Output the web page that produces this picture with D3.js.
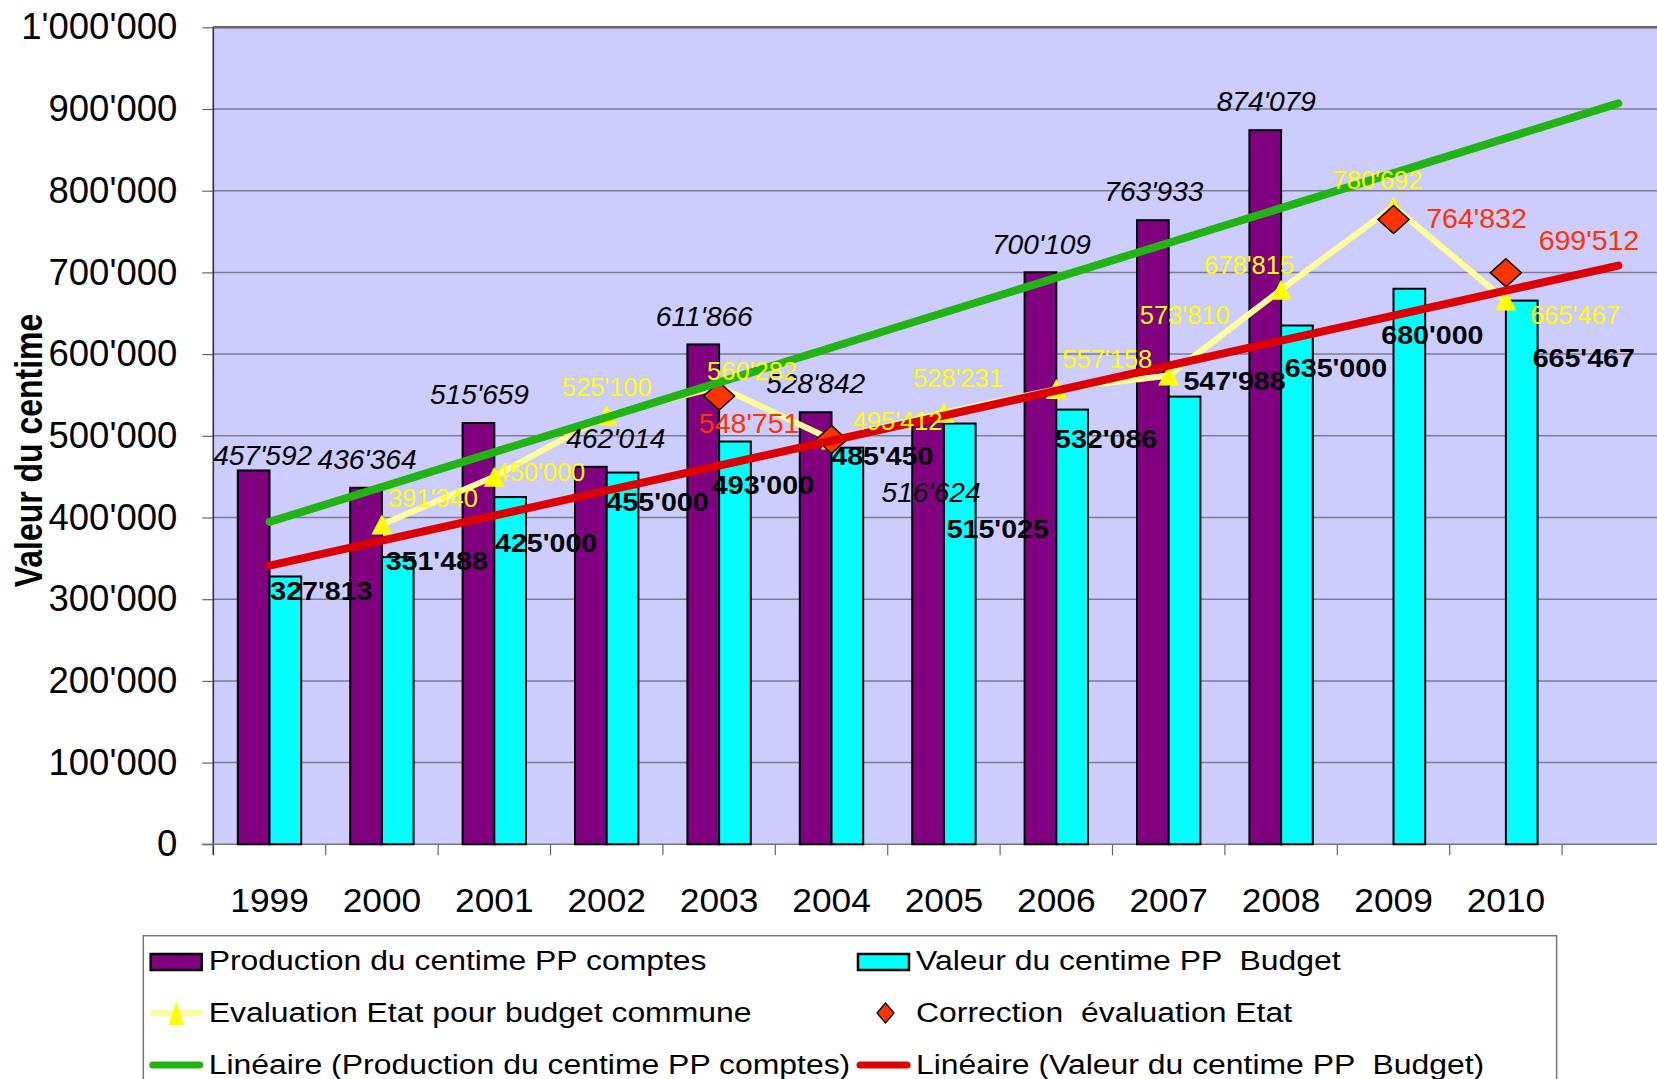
<!DOCTYPE html>
<html lang="fr">
<head>
<meta charset="UTF-8">
<title>Valeur du centime</title>
<script src="https://cdn.jsdelivr.net/npm/d3@7"></script>
<style>
    body { margin: 0; background: #fff; }
    svg { display: block; font-family: "Liberation Sans", Arial, sans-serif; }
    .legend text { white-space: pre; }
</style>
</head>
<body>
<script>
    // ---- data ----
    // last slot is empty: the trend lines run on into it
    var years = ["1999", "2000", "2001", "2002", "2003", "2004", "2005", "2006", "2007", "2008", "2009", "2010", ""];
    var production = [457592, 436364, 515659, 462014, 611866, 528842, 516624, 700109, 763933, 874079, null, null];
    var budget = [327813, 351488, 425000, 455000, 493000, 485450, 515025, 532086, 547988, 635000, 680000, 665467];
    var evaluation = [null, 391340, 450000, 525100, 560282, 495412, 528231, 557158, 573810, 678815, 780692, 665467];
    var correction = [null, null, null, null, 548751, 495412, null, null, null, null, 764832, 699512];
    var yTicks = [0, 100000, 200000, 300000, 400000, 500000, 600000, 700000, 800000, 900000, 1000000];
    var legendNames = [
        "Production du centime PP comptes", "Valeur du centime PP  Budget",
        "Evaluation Etat pour budget commune", "Correction  évaluation Etat",
        "Linéaire (Production du centime PP comptes)", "Linéaire (Valeur du centime PP  Budget)"
    ];

    // label nudges in px from the mark (hand placed in the original), null = no label
    var prodShift = [[9, -5], [1, -19], [1, -19], [25, -19], [1, -18], [0, -19], [3, 80], [1, -18], [1, -19], [1, -19]];
    var budgetShift = [[36, 24], [39, 13], [36, 55], [35, 38], [28, 52], [35, 17], [38, 114], [34, 38], [50, -7], [39, 51], [23, 55], [62, 66]];
    var evalShift = [null, [51, -18], [46, 4], [0, -19], [33, -7], [66, -10], [14, -26], [51, -21], [16, -51], [-32, -16], [-16, -17], [69, 23]];
    var corrShift = [null, null, null, null, [30, 37], null, null, null, null, null, [83, 9], [83, -23]];

    var W = 1657, H = 1079;
    var plot = { left: 213.3, top: 27.3, bottom: 844.3, band: 112.4 };

    var fmt = d3.formatLocale({ decimal: ".", thousands: "'", grouping: [3], currency: ["", ""] }).format(",");

    var svg = d3.select("body").append("svg")
        .attr("width", W)
        .attr("height", H)
        .style("background", "#fff");

    var x = d3.scaleBand()
        .domain(d3.range(years.length))
        .range([plot.left, plot.left + plot.band * years.length])
        .padding(0);
    var y = d3.scaleLinear().domain([0, 1000000]).range([plot.bottom, plot.top]);
    var cx = i => x(i) + x.bandwidth() / 2;
    var barW = x.bandwidth() * 0.282;

    // plot area
    svg.append("rect")
        .attr("x", plot.left).attr("y", plot.top)
        .attr("width", x.range()[1] - plot.left)
        .attr("height", plot.bottom - plot.top)
        .attr("fill", "#CCCCFF");

    // gridlines
    svg.append("g").selectAll("line")
        .data(yTicks.filter(d => d > 0))
        .enter().append("line")
        .attr("x1", plot.left).attr("x2", W)
        .attr("y1", d => y(d)).attr("y2", d => y(d))
        .attr("stroke", d => d == 1000000 ? "#666" : "#7d7d8c")
        .attr("stroke-width", d => d == 1000000 ? 2.5 : 1.5);

    // y axis
    var yAxis = svg.append("g")
        .attr("transform", "translate(" + plot.left + ",0)")
        .call(d3.axisLeft(y).tickValues(yTicks).tickSize(11).tickPadding(25).tickFormat(fmt));
    yAxis.select(".domain").remove();
    yAxis.selectAll("line").attr("stroke", "#666").attr("stroke-width", 1.2);
    yAxis.selectAll("text")
        .attr("font-family", "Liberation Sans, Arial, sans-serif")
        .attr("font-size", 36.5)
        .attr("fill", "#000");
    svg.append("line")
        .attr("x1", plot.left).attr("x2", plot.left)
        .attr("y1", plot.top).attr("y2", plot.bottom + 11)
        .attr("stroke", "#333").attr("stroke-width", 1.6);

    // x axis: ticks on band edges, labels in the middle
    svg.append("line")
        .attr("x1", plot.left - 11).attr("x2", W)
        .attr("y1", plot.bottom).attr("y2", plot.bottom)
        .attr("stroke", "#777").attr("stroke-width", 1.6);
    svg.append("g").selectAll("line")
        .data(d3.range(1, years.length))
        .enter().append("line")
        .attr("x1", i => x(i)).attr("x2", i => x(i))
        .attr("y1", plot.bottom).attr("y2", plot.bottom + 11)
        .attr("stroke", "#666").attr("stroke-width", 1.2);
    svg.append("g").selectAll("text")
        .data(years)
        .enter().append("text")
        .attr("transform", (d, i) => "translate(" + cx(i) + "," + 911.7 + ") scale(1.07,1)")
        .attr("text-anchor", "middle")
        .attr("font-size", 33)
        .text(d => d);

    // bars
    svg.append("g").selectAll("rect")
        .data(production.map((v, i) => ({ v: v, i: i })).filter(d => d.v != null))
        .enter().append("rect")
        .attr("x", d => cx(d.i) - barW)
        .attr("y", d => y(d.v))
        .attr("width", barW)
        .attr("height", d => plot.bottom - y(d.v))
        .attr("fill", "#800080").attr("stroke", "#000").attr("stroke-width", 2);
    svg.append("g").selectAll("rect")
        .data(budget.map((v, i) => ({ v: v, i: i })))
        .enter().append("rect")
        .attr("x", d => cx(d.i))
        .attr("y", d => y(d.v))
        .attr("width", barW)
        .attr("height", d => plot.bottom - y(d.v))
        .attr("fill", "#00FFFF").attr("stroke", "#000").attr("stroke-width", 2);

    // Evaluation Etat line + triangles
    var evalPts = evaluation.map((v, i) => ({ v: v, i: i })).filter(d => d.v != null);
    svg.append("path")
        .datum(evalPts)
        .attr("fill", "none")
        .attr("stroke", "#FFFF99")
        .attr("stroke-width", 6)
        .attr("d", d3.line().x(d => cx(d.i)).y(d => y(d.v)));
    var tri = "M0,-10L10.5,10L-10.5,10Z";
    svg.append("g").selectAll("path")
        .data(evalPts)
        .enter().append("path")
        .attr("d", tri)
        .attr("transform", d => "translate(" + cx(d.i) + "," + y(d.v) + ")")
        .attr("fill", "#FFFF00");

    // Correction diamonds
    var corrPts = correction.map((v, i) => ({ v: v, i: i })).filter(d => d.v != null);
    var diamond = "M0,-14L15.5,0L0,14L-15.5,0Z";
    svg.append("g").selectAll("path")
        .data(corrPts)
        .enter().append("path")
        .attr("d", diamond)
        .attr("transform", d => "translate(" + cx(d.i) + "," + y(d.v) + ")")
        .attr("fill", "#FF3300").attr("stroke", "#000").attr("stroke-width", 1.5);

    // linear trends (least squares), drawn over all 13 slots
    function trend(values) {
        var pts = values.map((v, i) => [i, v]).filter(p => p[1] != null);
        var mx = d3.mean(pts, p => p[0]), my = d3.mean(pts, p => p[1]);
        var slope = d3.sum(pts, p => (p[0] - mx) * (p[1] - my)) / d3.sum(pts, p => (p[0] - mx) * (p[0] - mx));
        return d3.range(years.length).map(i => ({ i: i, v: my + slope * (i - mx) }));
    }
    [[production, "#22B414"], [budget, "#DC0000"]].forEach(function (t) {
        var pts = trend(t[0]);
        svg.append("path")
            .datum([pts[0], pts[pts.length - 1]])
            .attr("fill", "none")
            .attr("stroke", t[1])
            .attr("stroke-width", 8)
            .attr("stroke-linecap", "round")
            .attr("d", d3.line().x(d => cx(d.i)).y(d => y(d.v)));
    });

    // data labels
    function labels(values, shifts, xoff, opts) {
        svg.append("g").selectAll("text")
            .data(values.map((v, i) => ({ v: v, i: i, s: shifts[i] })).filter(d => d.v != null && d.s))
            .enter().append("text")
            .attr("transform", d => "translate(" + (cx(d.i) + xoff + d.s[0]) + "," + (y(d.v) + d.s[1]) + ") scale(" + opts.sx + ",1)")
            .attr("text-anchor", "middle")
            .attr("font-size", opts.size)
            .attr("font-style", opts.style || "normal")
            .attr("font-weight", opts.weight || "normal")
            .attr("fill", opts.color)
            .text(d => fmt(d.v));
    }
    labels(production, prodShift, -barW / 2, { size: 27, sx: 1.04, style: "italic", color: "#000" });
    labels(budget, budgetShift, barW / 2, { size: 26, sx: 1.1, weight: "bold", color: "#000" });
    labels(evaluation, evalShift, 0, { size: 25.5, sx: 1, color: "#FFFF00" });
    labels(correction, corrShift, 0, { size: 28.5, sx: 1, color: "#FF3300" });

    // y axis title
    svg.append("text")
        .attr("transform", "translate(42,450.5) rotate(-90) scale(0.82,1)")
        .attr("text-anchor", "middle")
        .attr("font-size", 39)
        .attr("font-weight", "bold")
        .text("Valeur du centime");

    // legend
    var lg = svg.append("g").attr("class", "legend");
    lg.append("rect")
        .attr("x", 143.3).attr("y", 935.7)
        .attr("width", 1556.6 - 143.3).attr("height", 200)
        .attr("fill", "#fff").attr("stroke", "#777").attr("stroke-width", 1.5);
    var rowY = [970, 1022, 1074];
    var colX = [150.7, 858];
    legendNames.forEach(function (name, k) {
        var r = Math.floor(k / 2), c = k % 2;
        var sx = colX[c], by = rowY[r], my = by - 9;
        if (k < 2) {
            lg.append("rect")
                .attr("x", sx).attr("y", by - 16).attr("width", 51).attr("height", 16)
                .attr("fill", k == 0 ? "#800080" : "#00FFFF").attr("stroke", "#000").attr("stroke-width", 2.5);
        } else if (k == 2) {
            lg.append("line").attr("x1", sx).attr("x2", sx + 51).attr("y1", my).attr("y2", my)
                .attr("stroke", "#FFFF99").attr("stroke-width", 6);
            lg.append("path").attr("d", "M0,-12L7.5,12L-7.5,12Z")
                .attr("transform", "translate(" + (sx + 25.5) + "," + my + ")")
                .attr("fill", "#FFFF00");
        } else if (k == 3) {
            lg.append("path").attr("d", "M0,-10L8.5,0L0,10L-8.5,0Z")
                .attr("transform", "translate(" + (sx + 27.5) + "," + my + ")")
                .attr("fill", "#FF3300").attr("stroke", "#000").attr("stroke-width", 1.3);
        } else {
            lg.append("line").attr("x1", sx + 2).attr("x2", sx + 49).attr("y1", my).attr("y2", my)
                .attr("stroke", k == 4 ? "#22B414" : "#DC0000").attr("stroke-width", 7)
                .attr("stroke-linecap", "round");
        }
        lg.append("text")
            .attr("transform", "translate(" + (sx + 58) + "," + by + ") scale(1.14,1)")
            .attr("font-size", 28)
            .attr("xml:space", "preserve")
            .text(name);
    });
</script>
</body>
</html>
